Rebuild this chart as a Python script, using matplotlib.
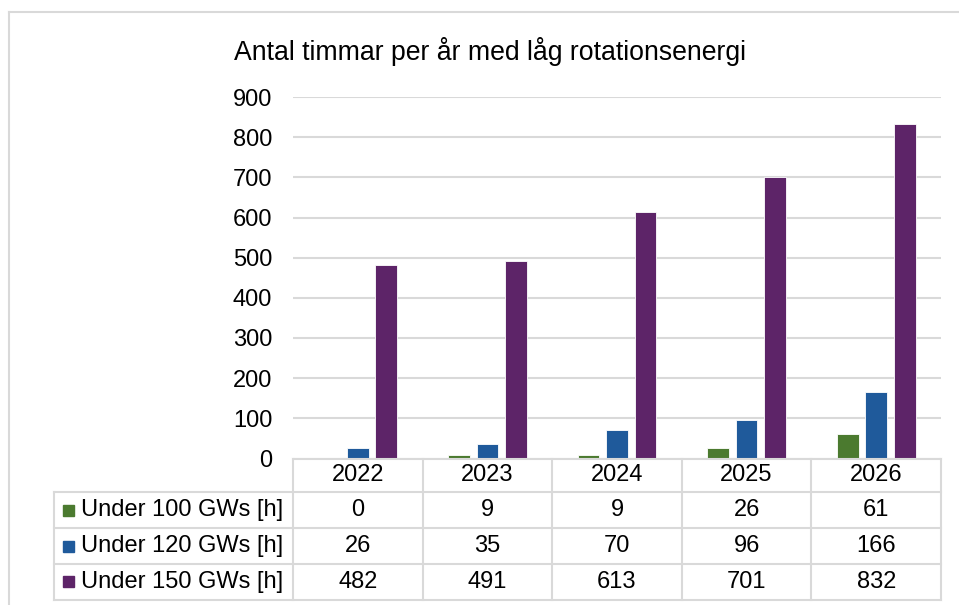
import matplotlib
matplotlib.use("Agg")
import matplotlib.pyplot as plt
from matplotlib.lines import Line2D
from matplotlib.patches import Rectangle
import matplotlib.transforms as mtransforms

plt.rcParams['font.family'] = ['Liberation Sans', 'DejaVu Sans']

years = ["2022", "2023", "2024", "2025", "2026"]
series_names = ["Under 100 GWs [h]", "Under 120 GWs [h]", "Under 150 GWs [h]"]
under_100 = [0, 9, 9, 26, 61]
under_120 = [26, 35, 70, 96, 166]
under_150 = [482, 491, 613, 701, 832]
colors = ["#4b7a2f", "#1f5a9b", "#5d2468"]
title = "Antal timmar per år med låg rotationsenergi"
yticks = [0, 100, 200, 300, 400, 500, 600, 700, 800, 900]

W, H = 959, 605
fig = plt.figure(figsize=(W / 100, H / 100), dpi=100)

def fx(px):
    return px / W

def fy(py):
    return 1 - py / H

grid_c = "#d9d9d9"
fs = 17

# outer frame (top and left)
fig.add_artist(Line2D([fx(9), fx(959)], [fy(12), fy(12)], color=grid_c, lw=1.5))
fig.add_artist(Line2D([fx(9), fx(9)], [fy(12), fy(605)], color=grid_c, lw=1.5))

ax = fig.add_axes([fx(293), fy(458.5), fx(941) - fx(293), fy(97) - fy(458.5)])
series = [under_100, under_120, under_150]
x = list(range(len(years)))
spacing = 0.22
width = 0.168
for k, (vals, c) in enumerate(zip(series, colors)):
    ax.bar([xi + (k - 1) * spacing for xi in x], vals, width=width, color=c,
           edgecolor="white", linewidth=0.6, zorder=3)
ax.set_xlim(-0.5, len(years) - 0.5)
ax.set_ylim(0, 900)
ax.set_yticks(yticks)
ax.set_yticklabels([str(t) for t in yticks], fontsize=fs)
ax.tick_params(axis='y', length=0, pad=15)
ax.set_xticks([])
ax.grid(axis='y', color=grid_c, lw=1.5, zorder=0)
for s in ax.spines.values():
    s.set_visible(False)

fig.text(fx(490), fy(51), title, ha='center', va='center', fontsize=19.2)

# data table below the axis
trans = mtransforms.blended_transform_factory(ax.transData, fig.transFigure)
col_w_px = (941 - 293) / len(years)
label_left = -0.5 - (293 - 54) / col_w_px
row_lines = [458.5, 492, 528, 564, 599.5]
lw_t = 1.5
# header top line
fig.add_artist(Line2D([-0.5, len(years) - 0.5], [fy(row_lines[0])] * 2, color=grid_c, lw=lw_t, transform=trans))
for yl in row_lines[1:]:
    fig.add_artist(Line2D([label_left, len(years) - 0.5], [fy(yl)] * 2, color=grid_c, lw=lw_t, transform=trans))
for i in range(len(years) + 1):
    fig.add_artist(Line2D([i - 0.5, i - 0.5], [fy(row_lines[0]), fy(row_lines[-1])], color=grid_c, lw=lw_t, transform=trans))
fig.add_artist(Line2D([label_left, label_left], [fy(row_lines[1]), fy(row_lines[-1])], color=grid_c, lw=lw_t, transform=trans))

for i, yr in enumerate(years):
    fig.text(i, fy((row_lines[0] + row_lines[1]) / 2), yr, ha='center', va='center',
             fontsize=fs, transform=trans)
for r, (name, vals, c) in enumerate(zip(series_names, series, colors)):
    yc = fy((row_lines[r + 1] + row_lines[r + 2]) / 2)
    fig.add_artist(Rectangle((fx(63), yc - 5.5 / H), 11 / W, 11 / H, color=c, transform=fig.transFigure))
    fig.text(fx(81), yc, name, ha='left', va='center', fontsize=fs)
    for i, v in enumerate(vals):
        fig.text(i, yc, str(v), ha='center', va='center', fontsize=fs, transform=trans)

fig.savefig("out.png", dpi=100)
